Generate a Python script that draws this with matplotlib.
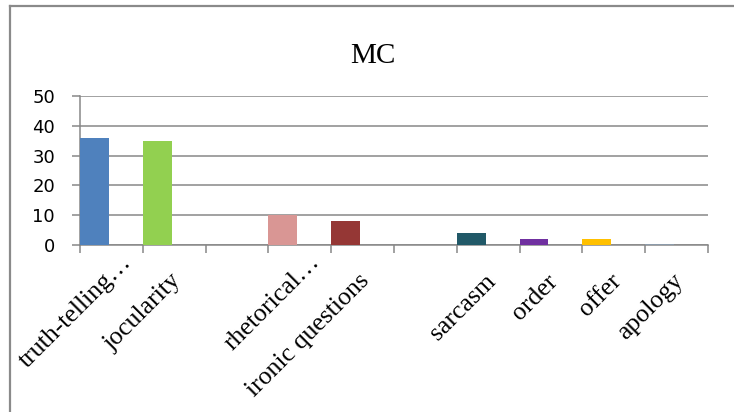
import matplotlib
matplotlib.use("Agg")
import matplotlib.pyplot as plt
from matplotlib.lines import Line2D
from matplotlib.transforms import offset_copy
import numpy as np

# categories (empty strings are gaps between the groups)
categories = ["truth-telling…", "jocularity", "", "rhetorical…", "ironic questions",
              "", "sarcasm", "order", "offer", "apology"]
counts = [36, 35, 0, 10, 8, 0, 4, 2, 2, 0.3]
bar_colors = ["#4F81BD", "#92D050", "#FFFFFF", "#D99694", "#953735",
              "#FFFFFF", "#215968", "#7030A0", "#FFC000", "#8C9BAA"]
yticks = [0, 10, 20, 30, 40, 50]

serif = "Liberation Serif"

W, H = 734, 412
fig = plt.figure(figsize=(W / 100, H / 100), dpi=100)
ax = fig.add_axes([80 / W, 1 - 245 / H, (708 - 80) / W, (245 - 96) / H])

grey = "#878787"
x = np.arange(len(categories))
ax.bar(x, counts, width=0.46, align="edge", color=bar_colors, zorder=3, linewidth=0)

ax.set_xlim(0, len(categories))
ax.set_ylim(0, 50)
ax.set_yticks(yticks)
ax.set_yticklabels([str(v) for v in yticks], fontsize=13, family="DejaVu Sans")
ax.yaxis.grid(True, color=grey, linewidth=1.1, zorder=1)
ax.set_axisbelow(True)
ax.tick_params(axis="y", length=6, width=1.1, color=grey, pad=12)

ax.set_xticks(np.arange(len(categories) + 1))
ax.set_xticklabels([])
ax.tick_params(axis="x", length=6, width=1.1, color=grey, direction="out")

for side in ["top", "right"]:
    ax.spines[side].set_visible(False)
for side in ["left", "bottom"]:
    ax.spines[side].set_color(grey)
    ax.spines[side].set_linewidth(1.1)

# rotated category labels hanging under the slot centres
for i, lab in enumerate(categories):
    if not lab:
        continue
    if lab.endswith("…"):
        dx, dy = 21, -18
    else:
        dx, dy = 8, -37
    tr = offset_copy(ax.get_xaxis_transform(), fig=fig, x=dx, y=dy, units="dots")
    ax.text(i + 0.5, 0, lab, transform=tr, rotation=45, rotation_mode="anchor",
            ha="right", va="baseline", fontsize=18.5, family=serif)

fig.text(373 / W, 1 - 63.3 / H, "MC", ha="center", va="baseline",
         fontsize=21, family=serif)

# chart frame (left and top edges)
fig.add_artist(Line2D([9.5 / W, 9.5 / W], [0, 1 - 6.3 / H], transform=fig.transFigure,
                      color="#8a8a8a", linewidth=1.6))
fig.add_artist(Line2D([9.5 / W, 1], [1 - 6.3 / H, 1 - 6.3 / H], transform=fig.transFigure,
                      color="#8a8a8a", linewidth=1.6))

fig.savefig("out.png", dpi=100)
